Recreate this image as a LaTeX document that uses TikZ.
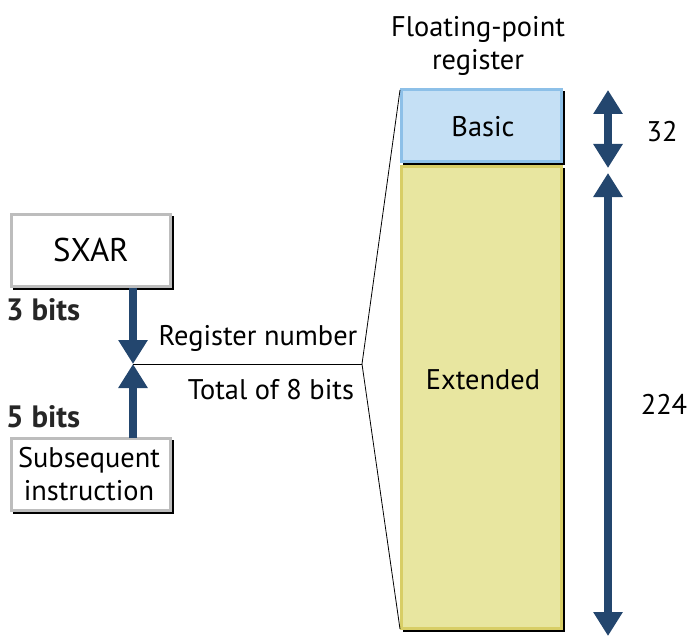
\documentclass[tikz,border=0pt]{standalone}
\usepackage{fontspec}
\setmainfont{PT Sans}
\usetikzlibrary{arrows.meta}
\definecolor{arrowblue}{HTML}{23466E}
\definecolor{boxgray}{HTML}{BDBDBD}
\definecolor{basicfill}{HTML}{C5E0F5}
\definecolor{basicedge}{HTML}{8DC0E8}
\definecolor{extfill}{HTML}{E8E6A0}
\definecolor{extedge}{HTML}{D8CE66}
\begin{document}
\begin{tikzpicture}[x=1bp,y=-1bp,
  txt/.style={font=\fontsize{28.5}{34}\selectfont, inner sep=0pt, text=black},
  bigtxt/.style={font=\fontsize{33}{37}\selectfont, inner sep=0pt, text=black},
  bitstxt/.style={font=\fontsize{31}{34}\selectfont\bfseries, inner sep=0pt, text=black!85},
  fatarrow/.style={draw=arrowblue, line width=8.5bp, -{Triangle[width=28bp,length=24bp]}},
  dblarrow/.style={draw=arrowblue, line width=8.5bp, {Triangle[width=28bp,length=24bp]}-{Triangle[width=28bp,length=24bp]}},
  thin/.style={draw=black, line width=0.8bp}
]
\useasboundingbox (0,0) rectangle (689,636);

% SXAR box
\fill (13,216) rectangle (174,290);
\draw[boxgray, line width=3bp, fill=white] (11.5,214.5) rectangle (170.5,286.5);
\node[bigtxt] (sxar) at (91,250) {SXAR};
\coordinate (sxarb) at (133,288);

% Subsequent instruction box
\fill (13,440) rectangle (174,514);
\draw[boxgray, line width=3bp, fill=white] (11.5,438.5) rectangle (170.5,510.5);
\node[txt, align=center] (sub) at (89,474) {Subsequent\\instruction};
\coordinate (subt) at (133,438);

% bits labels
\node[bitstxt, anchor=west] (b3) at (6,310) {3 bits};
\node[bitstxt, anchor=west] (b5) at (6,417) {5 bits};

% junction
\coordinate (j) at (133,364);
\coordinate (apex) at (362,364);
\draw[fatarrow] (sxarb) -- (j);
\draw[fatarrow] (subt) -- (j);
\draw[thin] (j) -- (apex);

\node[txt] (regnum) at (258,338) {Register number};
\node[txt] (total) at (271,390) {Total of 8 bits};

% register boxes
\fill (403,91) rectangle (565,165);
\draw[basicedge, line width=3bp, fill=basicfill] (401.5,89.5) rectangle (561.5,161.5);
\node[txt] (basic) at (483,127) {Basic};

\fill (403,168) rectangle (565,632);
\draw[extedge, line width=3bp, fill=extfill] (401.5,166.5) rectangle (561.5,628.5);
\node[txt] (ext) at (483,380) {Extended};

\coordinate (btl) at (400,90);
\coordinate (ebl) at (400,629);
\draw[thin] (btl) -- (apex) -- (ebl);

\node[txt, align=center] (fpr) at (478,46) {Floating-point\\register};

% dimension arrows
\coordinate (d1t) at (608,90);
\coordinate (d1b) at (608,168);
\coordinate (d2t) at (608,173);
\coordinate (d2b) at (608,636);
\draw[dblarrow] (d1t) -- (d1b);
\draw[dblarrow] (d2t) -- (d2b);
\node[txt] (n32) at (662,132) {32};
\node[txt] (n224) at (664,404) {224};
\end{tikzpicture}
\end{document}
